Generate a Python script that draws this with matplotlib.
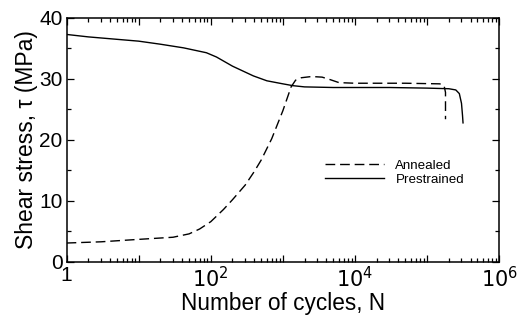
import matplotlib
matplotlib.use("Agg")
import matplotlib.pyplot as plt
from matplotlib.ticker import MultipleLocator, LogLocator, FixedLocator, FixedFormatter, NullFormatter

plt.rcParams['font.family'] = ['Liberation Sans', 'DejaVu Sans']

# Data
annealed_N = [1, 3, 10, 30, 50, 70, 100, 150, 200, 300, 400, 500, 700, 1000, 1300,
              1500, 1800, 2500, 3500, 4500, 6000, 1e4, 5e4, 1.5e5, 1.72e5, 1.8e5, 1.8e5]
annealed_tau = [3.1, 3.3, 3.7, 4.05, 4.6, 5.4, 6.6, 8.6, 10.2, 12.6, 14.8, 16.7, 20.2, 24.8, 28.7,
                29.8, 30.2, 30.4, 30.3, 29.9, 29.4, 29.3, 29.3, 29.2, 28.9, 27.8, 23.4]

prestrained_N = [1, 2, 5, 10, 20, 42, 87, 120, 200, 390, 600, 1000, 1380, 2000, 5000, 1e4,
                 3e4, 1e5, 2e5, 2.5e5, 2.8e5, 3.0e5, 3.1e5, 3.15e5]
prestrained_tau = [37.3, 36.9, 36.5, 36.2, 35.7, 35.1, 34.3, 33.6, 32.1, 30.5, 29.7, 29.2, 28.9,
                   28.7, 28.6, 28.6, 28.6, 28.5, 28.4, 28.2, 27.6, 26.0, 24.0, 22.8]

xtick_vals = [10.0**k for k in range(0, 7)]
xtick_labels = ['1', '', r'$10^2$', '', r'$10^4$', '', r'$10^6$']
ytick_vals = [0, 10, 20, 30, 40]

fig = plt.figure(figsize=(5.2, 3.21), dpi=100)
ax = fig.add_axes([0.128, 0.184, 0.832, 0.760])

ax.plot(annealed_N, annealed_tau, color='black', lw=1.0, linestyle=(0, (7, 3.5)), label='Annealed')
ax.plot(prestrained_N, prestrained_tau, color='black', lw=1.0, label='Prestrained')

ax.set_xscale('log')
ax.set_xlim(1, 1e6)
ax.set_ylim(0, 40)

ax.xaxis.set_major_locator(FixedLocator(xtick_vals))
ax.xaxis.set_major_formatter(FixedFormatter(xtick_labels))
ax.xaxis.set_minor_locator(LogLocator(base=10, subs=range(2, 10), numticks=20))
ax.xaxis.set_minor_formatter(NullFormatter())

ax.set_yticks(ytick_vals)
ax.yaxis.set_minor_locator(MultipleLocator(5))

ax.tick_params(which='both', direction='in', top=True, right=True, colors='black',
               labelsize=15, width=0.9)
ax.tick_params(which='major', length=5, pad=3)
ax.tick_params(which='minor', length=3)

for s in ax.spines.values():
    s.set_linewidth(1.1)

ax.set_xlabel('Number of cycles, N', fontsize=16.3, labelpad=0.5)
ax.set_ylabel('Shear stress, τ (MPa)', fontsize=16.5, labelpad=1)

ax.legend(loc='center left', bbox_to_anchor=(0.583, 0.366), frameon=False,
          fontsize=9.6, handlelength=4.4, handletextpad=0.85, borderpad=0,
          labelspacing=0.08)

fig.savefig('out.png', dpi=100)
